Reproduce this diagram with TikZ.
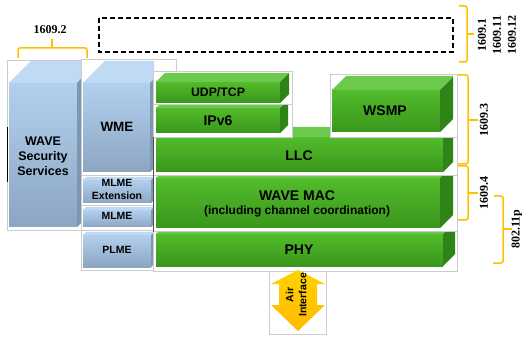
\documentclass[tikz,border=0pt]{standalone}
\usepackage{fontspec}
\setmainfont{Liberation Serif}
\newfontfamily\arialfont{Liberation Sans}
\usepackage{xcolor}
\usepackage{tikz}

\definecolor{gfrontA}{HTML}{52BC2B}
\definecolor{gfrontB}{HTML}{3A961C}
\definecolor{gtop}{HTML}{6DC84E}
\definecolor{gside}{HTML}{2F8418}
\definecolor{bfrontA}{HTML}{B2D0EE}
\definecolor{bfrontB}{HTML}{8CA6C2}
\definecolor{btop}{HTML}{BFDAF2}
\definecolor{bside}{HTML}{7E96B0}
\definecolor{braceorange}{HTML}{FFC000}

\newcommand{\layerblock}[7]{
  \shade[top color=#7frontA,bottom color=#7frontB] (#1,#2+#5) rectangle (#3-#6,#4);
  \fill[#7top] (#1,#2+#5) -- (#1+#5,#2) -- (#3,#2) -- (#3,#2+#5-#6) -- (#3-#6,#2+#5) -- cycle;
  \fill[#7side] (#3-#6,#2+#5) -- (#3,#2+#5-#6) -- (#3,#4-#6) -- (#3-#6,#4) -- cycle;
}

\begin{document}
\begin{tikzpicture}[x=1pt,y=-1pt,
  frame/.style={draw=gray!40,fill=white,line width=0.6pt},
  lbl/.style={font=\arialfont\bfseries\fontsize{#1}{15}\selectfont,align=center,inner sep=0pt},
  lbl/.default=13.5,
  sublbl/.style={font=\arialfont\bfseries\fontsize{10.5}{13}\selectfont,align=center,inner sep=0pt},
  num/.style={font=\bfseries\fontsize{12}{15}\selectfont,align=center,inner sep=0pt},
  brace/.style={draw=braceorange,line width=1.5pt,rounded corners=2pt}]
\useasboundingbox (0,0) rectangle (522,339);

\draw[black,line width=1.5pt,dash pattern=on 5pt off 3pt] (99,18) rectangle (453,52);

\draw[frame] (7,60) rectangle (82,230);
\layerblock{9}{61}{81}{227}{22}{4}{b}
\draw[frame] (81,59) rectangle (176,175);
\layerblock{83}{61}{154}{172}{22}{4}{b}
\draw[frame] (81,175) rectangle (155,205);
\layerblock{83}{177}{154}{203}{3}{3}{b}
\draw[frame] (81,205) rectangle (155,230);
\layerblock{83}{207}{154}{227}{3}{3}{b}
\draw[frame] (81,230) rectangle (155,270);
\layerblock{83}{232}{154}{267}{3}{3}{b}
\draw[black,line width=0.6pt] (7,127) -- (7,182);

\draw[frame] (153,231) rectangle (457,271);
\layerblock{156}{222}{455}{266}{12}{12}{g}
\draw[frame] (153,175) rectangle (457,231);
\layerblock{156}{165}{453}{228}{13}{13}{g}
\draw[frame] (153,127) rectangle (457,175);
\layerblock{156}{127}{453}{172}{10}{10}{g}
\draw[frame] (153,104) rectangle (292,137);
\layerblock{156}{100}{288}{133}{8}{8}{g}
\draw[frame] (153,71) rectangle (292,104);
\layerblock{156}{73}{289}{103}{9}{9}{g}
\draw[frame] (330,74) rectangle (457,137);
\layerblock{332}{76}{453}{132}{14}{13}{g}
\draw[black!70,line width=0.5pt] (153,137) -- (153,232);

\draw[frame] (269,271) rectangle (326,334);
\shade[top color=braceorange!70!yellow,bottom color=braceorange!90!orange]
  (298,270) -- (325,284) -- (317,284) -- (317,305) -- (325,305) -- (298,331)
  -- (271,305) -- (279,305) -- (279,284) -- (271,284) -- cycle;

\draw[brace] (18,58) -- (18,48) -- (87,48) -- (87,58);
\draw[brace] (52,48) -- (52,39);
\draw[brace] (459,6) -- (467,6) -- (467,62) -- (459,62);
\draw[brace] (467,34) -- (474,34);
\draw[brace] (458,75) -- (468,75) -- (468,164) -- (458,164);
\draw[brace] (468,120) -- (478,120);
\draw[brace] (458,166) -- (468,166) -- (468,220) -- (458,220);
\draw[brace] (468,193) -- (478,193);
\draw[brace] (494,196) -- (503,196) -- (503,263) -- (493,263);
\draw[brace] (503,229) -- (512,229);

\node[num] (std2) at (50,30) {1609.2};
\node[num,rotate=90] (std1) at (497,35) {1609.1\\1609.11\\1609.12};
\node[num,rotate=90] (std3) at (484,120) {1609.3};
\node[num,rotate=90] (std4) at (484,193) {1609.4};
\node[num,rotate=90] (dot11p) at (517,229) {802.11p};

\node[lbl=12.5] (security) at (43,156) {WAVE\\Security\\Services};
\node[lbl] (wme) at (117,127) {WME};
\node[sublbl] (mlmeext) at (117,189) {MLME\\Extension};
\node[sublbl] (mlme) at (117,216) {MLME};
\node[sublbl] (plme) at (117,250) {PLME};
\node[lbl=12.3] (udptcp) at (218,92) {UDP/TCP};
\node[lbl=14] (ipv6) at (218,121) {IPv6};
\node[lbl=14] (wsmp) at (385,111) {WSMP};
\node[lbl=14] (llc) at (299,156) {LLC};
\node[lbl=14] (wavemac) at (297,204) {WAVE MAC\\[-1pt]\fontsize{12}{14}\selectfont(including channel coordination)};
\node[lbl=14] (phy) at (299,250) {PHY};
\node[sublbl,rotate=90] (air) at (296,295) {Air\\Interface};
\end{tikzpicture}
\end{document}
